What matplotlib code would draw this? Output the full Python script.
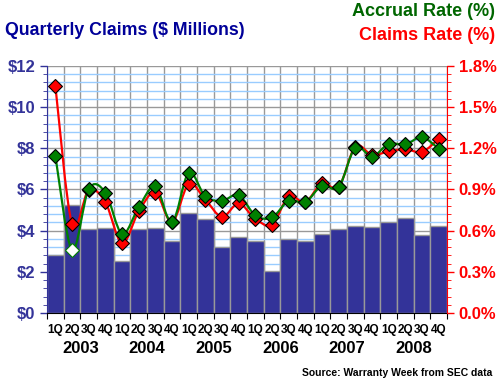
import numpy as np
import matplotlib
matplotlib.use("Agg")
import matplotlib.pyplot as plt
from matplotlib.path import Path
from matplotlib.patches import PathPatch

plt.rcParams['font.family'] = ['Liberation Sans', 'DejaVu Sans']

years = ["2003", "2004", "2005", "2006", "2007", "2008"]
quarters = ["1Q", "2Q", "3Q", "4Q"]

# quarterly claims, $ millions
claims = [2.83, 5.25, 4.10, 4.15, 2.54, 4.10, 4.15, 3.51,
          4.88, 4.59, 3.19, 3.67, 3.51, 2.05, 3.58, 3.51,
          3.85, 4.07, 4.24, 4.20, 4.44, 4.63, 3.80, 4.24]

# rates, percent
accrual_rate = [1.147, 0.459, 0.902, 0.878, 0.577, 0.769, 0.922, 0.660,
                1.021, 0.849, 0.818, 0.859, 0.711, 0.696, 0.818, 0.808,
                0.929, 0.917, 1.206, 1.140, 1.232, 1.228, 1.281, 1.198]
claims_rate = [1.657, 0.648, 0.895, 0.808, 0.507, 0.740, 0.878, 0.660,
               0.941, 0.825, 0.701, 0.798, 0.687, 0.643, 0.849, 0.808,
               0.946, 0.917, 1.213, 1.152, 1.177, 1.194, 1.174, 1.269]

NAVY = '#333399'
GREEN = '#008000'
DKGREEN = '#006600'
RED = '#FF0000'


def smooth_path(xs, ys):
    # catmull-rom through the points, as cubic bezier segments
    pts = np.column_stack([xs, ys])
    verts = [pts[0]]
    codes = [Path.MOVETO]
    n = len(pts)
    for i in range(n - 1):
        p0 = pts[max(i - 1, 0)]
        p1 = pts[i]
        p2 = pts[i + 1]
        p3 = pts[min(i + 2, n - 1)]
        verts += [p1 + (p2 - p0) / 6, p2 - (p3 - p1) / 6, p2]
        codes += [Path.CURVE4] * 3
    return Path(verts, codes)


fig = plt.figure(figsize=(5, 3.85), dpi=100)
ax = fig.add_axes([0.094, 0.187, 0.8, 0.6416])
x = np.arange(len(claims))

ax.set_xlim(-0.5, len(claims) - 0.5)
ax.set_ylim(0, 12)
ax.set_yticks(np.arange(0, 12.1, 2))
ax.set_yticks(np.arange(0, 12.1, 0.4), minor=True)
ax.grid(axis='y', which='minor', color='#99CCFF', lw=1)
ax.grid(axis='y', which='major', color='#999999', lw=1)
ax.set_axisbelow(True)
for b in np.arange(-0.5, len(claims), 1.0):
    ax.axvline(b, color='#999999', lw=1, zorder=0.5)

ax.bar(x, claims, width=1.0, color=NAVY, edgecolor='#999999', lw=1, zorder=2)

ax.set_yticklabels([f"${v:.0f}" for v in np.arange(0, 12.1, 2)])
ax.tick_params(axis='y', colors=NAVY, labelsize=12, length=5, width=1)
ax.tick_params(axis='y', which='minor', colors=NAVY, length=3)
for lab in ax.get_yticklabels():
    lab.set_fontweight('bold')
ax.spines['left'].set_color(NAVY)
ax.spines['top'].set_visible(False)
ax.spines['right'].set_visible(False)

ax.set_xticks(np.arange(-0.5, len(claims), 1.0))
ax.set_xticklabels([])
ax.tick_params(axis='x', length=4, color='black')
for i in range(len(claims)):
    ax.text(i, -0.045, quarters[i % 4], transform=ax.get_xaxis_transform(),
            ha='center', va='top', fontsize=8.5, fontweight='bold')
for k, yr in enumerate(years):
    ax.text(4 * k + 1.5, -0.115, yr, transform=ax.get_xaxis_transform(),
            ha='center', va='top', fontsize=12, fontweight='bold')

ax2 = ax.twinx()
ax2.set_ylim(0, 1.8)
ax2.set_yticks(np.arange(0, 1.81, 0.3))
ax2.set_yticks(np.arange(0, 1.81, 0.06), minor=True)
ax2.set_yticklabels([f"{v:.1f}%" for v in np.arange(0, 1.81, 0.3)])
ax2.tick_params(axis='y', colors=RED, labelsize=12, length=5, width=1)
ax2.tick_params(axis='y', which='minor', colors=RED, length=3)
for lab in ax2.get_yticklabels():
    lab.set_fontweight('bold')
ax2.spines['right'].set_color(RED)
ax2.spines['left'].set_visible(False)
ax2.spines['top'].set_visible(False)
ax2.spines['bottom'].set_visible(False)

ax2.add_patch(PathPatch(smooth_path(x, claims_rate), fc='none', ec=RED, lw=1.6, zorder=3))
ax2.add_patch(PathPatch(smooth_path(x, accrual_rate), fc='none', ec=GREEN, lw=1.6, zorder=3))
ax2.plot(x, claims_rate, ls='none', marker='D', ms=7, mfc=RED, mec='black', mew=0.8, zorder=4)
faces = [GREEN] * len(accrual_rate)
faces[1] = 'white'
edges = ['black'] * len(accrual_rate)
edges[1] = GREEN
for xi, yi, fc, ec in zip(x, accrual_rate, faces, edges):
    ax2.plot(xi, yi, ls='none', marker='D', ms=7, mfc=fc, mec=ec, mew=0.8, zorder=5)

fig.text(0.01, 0.922, "Quarterly Claims ($ Millions)", color='#000099',
         fontsize=12.8, fontweight='bold', ha='left', va='center')
fig.text(0.99, 0.969, "Accrual Rate (%)", color=DKGREEN,
         fontsize=13, fontweight='bold', ha='right', va='center')
fig.text(0.99, 0.909, "Claims Rate (%)", color=RED,
         fontsize=13, fontweight='bold', ha='right', va='center')
fig.text(0.984, 0.03, "Source: Warranty Week from SEC data", color='black',
         fontsize=7.5, fontweight='bold', ha='right', va='center')

fig.savefig("out.png", dpi=100)
